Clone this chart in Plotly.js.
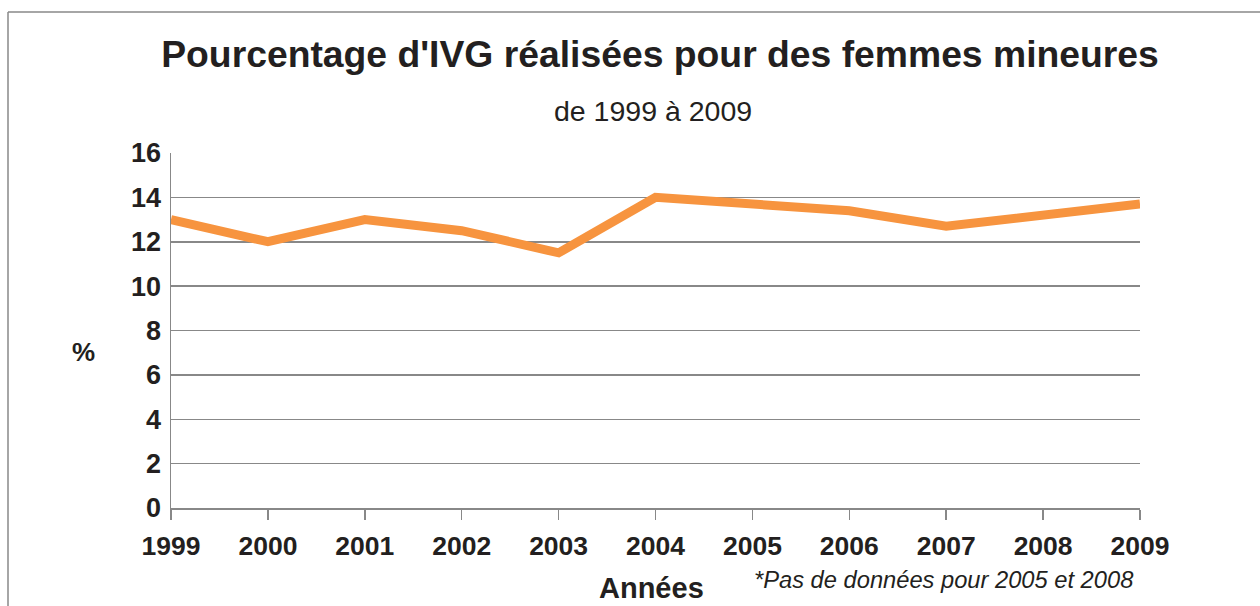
<!DOCTYPE html>
<html>
<head>
<meta charset="utf-8">
<script src="https://cdn.plot.ly/plotly-3.0.1.min.js"></script>
<style>html,body{margin:0;padding:0;background:#fff;}#chart{width:1260px;height:606px;}</style>
</head>
<body>
<div id="chart"></div>
<script>
const years = [1999, 2000, 2001, 2002, 2003, 2004, 2006, 2007, 2009];
const pourcentages = [13, 12, 13, 12.5, 11.5, 14, 13.4, 12.7, 13.7];
const tickYears = [1999, 2000, 2001, 2002, 2003, 2004, 2005, 2006, 2007, 2008, 2009];
const yTicks = [0, 2, 4, 6, 8, 10, 12, 14, 16];

const ink = '#231f20';
const grey = '#888888';

const trace = {
  x: years, y: pourcentages, type: 'scatter', mode: 'lines',
  line: {color: '#f7943f', width: 9}, hoverinfo: 'x+y'
};

const layout = {
  width: 1260, height: 606,
  margin: {l: 171, r: 120, t: 153, b: 98},
  paper_bgcolor: '#fff', plot_bgcolor: '#fff',
  showlegend: false,
  font: {family: 'Liberation Sans, Arial, sans-serif', color: ink},
  title: {
    text: "<b>Pourcentage d'IVG réalisées pour des femmes mineures</b>",
    font: {size: 37.3, color: ink},
    xref: 'paper', x: (660-171)/969, xanchor: 'center',
    yref: 'container', y: 1 - 54/606, yanchor: 'middle'
  },
  xaxis: {
    type: 'linear', range: [1999, 2009],
    tickmode: 'array', tickvals: tickYears, ticktext: tickYears.map(String),
    ticks: 'outside', ticklen: 10, tickwidth: 1.5, tickcolor: grey,
    showline: true, linecolor: grey, linewidth: 1.5,
    showgrid: false, zeroline: false,
    tickfont: {size: 26.5, color: ink, weight: 'bold'},
    ticklabelstandoff: 4
  },
  yaxis: {
    range: [0, 16], tickmode: 'array', tickvals: yTicks, ticktext: yTicks.map(String),
    ticks: '', showline: true, linecolor: grey, linewidth: 1.5,
    showgrid: true, gridcolor: grey, gridwidth: 1.5, zeroline: false,
    tickfont: {size: 27, color: ink, weight: 'bold'},
    ticklabelstandoff: 3
  },
  annotations: [
    {text: 'de 1999 à 2009', xref: 'paper', yref: 'paper', x: (653-171)/969, y: (508-111)/355,
     xanchor: 'center', yanchor: 'middle', showarrow: false, font: {size: 28.5, color: ink}},
    {text: '<b>%</b>', xref: 'paper', yref: 'paper', x: (83-171)/969, y: (508-352)/355,
     xanchor: 'center', yanchor: 'middle', showarrow: false, font: {size: 26, color: ink}},
    {text: '<b>Années</b>', xref: 'paper', yref: 'paper', x: (651-171)/969, y: (508-588)/355,
     xanchor: 'center', yanchor: 'middle', showarrow: false, font: {size: 29, color: ink}},
    {text: '<i>*Pas de données pour 2005 et 2008</i>', xref: 'paper', yref: 'paper', x: (752-171)/969, y: (508-580)/355,
     xanchor: 'left', yanchor: 'middle', showarrow: false, font: {size: 23.7, color: ink}}
  ],
  shapes: [
    {type: 'line', xref: 'paper', yref: 'paper', x0: (8-171)/969, x1: (1270-171)/969, y0: (508-12)/355, y1: (508-12)/355,
     line: {color: grey, width: 1.5}},
    {type: 'line', xref: 'paper', yref: 'paper', x0: (8-171)/969, x1: (8-171)/969, y0: (508-12)/355, y1: (508-620)/355,
     line: {color: grey, width: 1.5}}
  ]
};

Plotly.newPlot('chart', [trace], layout, {displayModeBar: false, staticPlot: true});
</script>
</body>
</html>
